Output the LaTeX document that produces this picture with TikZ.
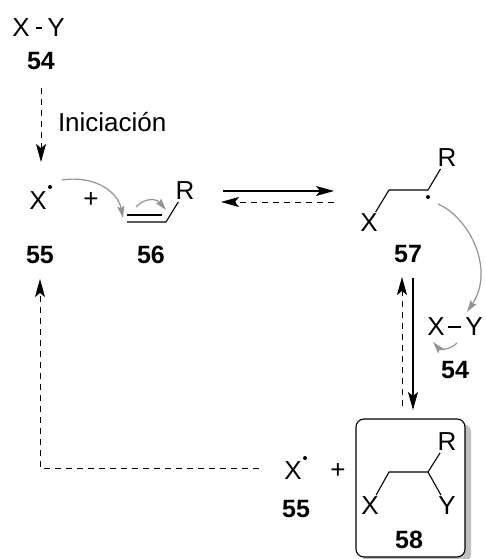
\documentclass[tikz,border=0pt]{standalone}
\usepackage{fontspec}
\setmainfont{Liberation Sans}
\usetikzlibrary{arrows.meta,shadows}
\tikzset{
	atom/.style={inner sep=0pt,outer sep=2pt,font=\fontsize{26}{28}\selectfont},
	lbl/.style={inner sep=0pt,font=\fontsize{25}{28}\selectfont\bfseries},
	bond/.style={line width=1.1pt},
	radical/.style={circle,fill=black,inner sep=0pt,minimum size=4pt},
	eqsolid/.style={line width=1.3pt,-{Stealth[length=18pt,width=10pt,inset=4pt]}},
	eqdash/.style={line width=1pt,dash pattern=on 6pt off 5pt,-{Stealth[length=18pt,width=10pt,inset=4pt]}},
	curly/.style={line width=1.2pt,gray!85,-{Stealth[length=12pt,width=7pt,inset=2pt]}}
}
\begin{document}
\begin{tikzpicture}[x=1pt,y=-1pt]
		\useasboundingbox (0,0) rectangle (485,559);
		% Box
		\node[draw,line width=1.1pt,rounded corners=8pt,fill=white,minimum width=109pt,minimum height=138pt,inner sep=0pt,
			drop shadow={shadow xshift=6pt,shadow yshift=-5pt,fill=gray!50,opacity=1}] (box58) at (410.5,488) {};
		
		% Nodes
		\node[atom] (xa) at (21,28) {X};
		\node[atom] (ya) at (56,28) {Y};
		\node[lbl] (n54a) at (41,61) {54};
		\node[atom,anchor=west,outer sep=0pt] (init) at (58,122) {Iniciación};
		\node[atom] (xb) at (38,201) {X};
		\node[radical] (dotb) at (50,187) {};
		\node[atom] (plusb) at (91,200) {+};
		\node[lbl] (n55a) at (40,255) {55};
		\node[lbl] (n56) at (151,255) {56};
		\node[atom] (rb) at (185,191) {R};
		\node[atom] (xc) at (369,223) {X};
		\node[atom] (rc) at (447,158) {R};
		\node[radical] (dotc) at (428,197) {};
		\node[lbl] (n57) at (408,254) {57};
		\node[atom] (xd) at (436,327) {X};
		\node[atom] (yd) at (474,327) {Y};
		\node[lbl] (n54b) at (455,370) {54};
		\node[atom] (xe) at (293,471) {X};
		\node[radical] (dote) at (305,458) {};
		\node[atom] (pluse) at (338,471) {+};
		\node[lbl] (n55b) at (296,509) {55};
		\node[atom] (rf) at (447,442) {R};
		\node[atom] (xf) at (370,506) {X};
		\node[atom] (yf) at (447,506) {Y};
		\node[lbl] (n58) at (409,540) {58};
		
		% Carbons and free ends
		\coordinate (c1) at (127,215);
		\coordinate (c2) at (162,215);
		\coordinate (c3) at (127,222);
		\coordinate (c4) at (166,222);
		\coordinate (c5) at (389,190);
		\coordinate (c6) at (428,190);
		\coordinate (c7) at (389,472);
		\coordinate (c8) at (428,472);
		\coordinate (eqa) at (223,191);
		\coordinate (eqb) at (334,191);
		\coordinate (eqc) at (334,202);
		\coordinate (eqd) at (221,202);
		\coordinate (upa) at (402,406);
		\coordinate (upb) at (402,277);
		\coordinate (dna) at (413,278);
		\coordinate (dnb) at (413,410);
		\coordinate (loopa) at (259,468);
		\coordinate (loopb) at (40,468);
		\coordinate (loopc) at (40,279);
		\coordinate (inita) at (41,88);
		\coordinate (initb) at (41,162);
		
		% Bonds
		\draw[bond,shorten <=4pt,shorten >=3pt] (xa) -- (ya);
		\draw[bond,shorten <=1.5pt,shorten >=2pt] (xd) -- (yd);
		\draw[bond] (c1) -- (c2);
		\draw[bond] (c3) -- (c4) -- (rb);
		\draw[bond] (xc) -- (c5) -- (c6) -- (rc);
		\draw[bond] (xf) -- (c7) -- (c8) -- (rf);
		\draw[bond] (c8) -- (yf);
		
		% Arrows
		\draw[eqdash] (inita) -- (initb);
		\draw[eqsolid] (eqa) -- (eqb);
		\draw[eqdash] (eqc) -- (eqd);
		\draw[eqdash] (upa) -- (upb);
		\draw[eqsolid] (dna) -- (dnb);
		\draw[eqdash] (loopa) -- (loopb) -- (loopc);
		
		% Curved arrows
		\coordinate (cua) at (62,180);
		\coordinate (cub) at (123,218);
		\coordinate (cuc) at (136,207);
		\coordinate (cud) at (166,210);
		\coordinate (cue) at (438,204);
		\coordinate (cuf) at (467,312);
		\coordinate (cug) at (457,343);
		\coordinate (cuh) at (433,342);
		\draw[curly] (cua) .. controls (95,175) and (118,192) .. (cub);
		\draw[curly] (cuc) .. controls (144,198) and (156,198) .. (cud);
		\draw[curly] (cue) .. controls (470,218) and (495,270) .. (cuf);
		\draw[curly] (cug) .. controls (450,350) and (440,350) .. (cuh);
		
	\end{tikzpicture}
\end{document}
